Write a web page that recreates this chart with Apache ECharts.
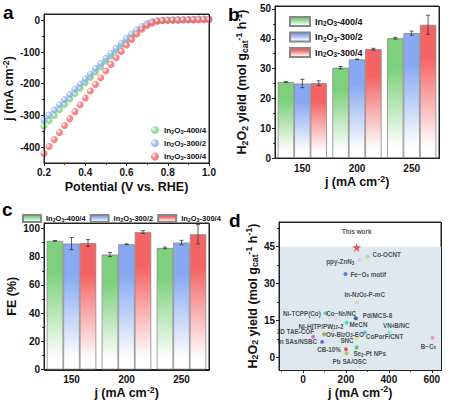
<!DOCTYPE html>
<html>
<head>
<meta charset="utf-8">
<script src="https://cdn.jsdelivr.net/npm/echarts@6/dist/echarts.min.js"></script>
<style>
  html, body { margin: 0; padding: 0; background: #fff; }
  #main { width: 451px; height: 403px; }
  #err { position: absolute; left: 0; top: 190px; width: 451px; font: 9px sans-serif; color: red; word-wrap: break-word; }
</style>
</head>
<body>
<div id="main"></div>
<div id="err"></div>
<script>
window.onerror = function (m, s, l, c) { document.getElementById('err').textContent += ' ERR: ' + m + ' @' + l + ':' + c; };
(function () {

    var FONT = 'Liberation Sans, Arial, sans-serif';

    // ---- data ----
    var samples = ['In_{2}O_{3}-400/4', 'In_{2}O_{3}-300/2', 'In_{2}O_{3}-300/4'];

    // a: LSV curves
    var potential = [0.200, 0.225, 0.250, 0.275, 0.300, 0.325, 0.350, 0.375, 0.400, 0.425, 0.450,
                     0.475, 0.500, 0.525, 0.550, 0.575, 0.600, 0.625, 0.650, 0.675, 0.700, 0.725,
                     0.750, 0.775, 0.800, 0.825, 0.850, 0.875, 0.900, 0.925, 0.950, 0.975, 1.000];
    var lsv400_4 = [-334, -317, -300, -282, -265, -248, -231, -214, -197, -180, -163,
                    -146, -129, -112, -95, -78, -62, -47, -33, -21, -11, -5,
                    -2, 0, 1, 1.5, 2, 2.5, 3, 3.5, 4, 4.5, 5];
    var lsv300_2 = [-315, -299, -283, -266, -250, -234, -217, -201, -185, -169, -152,
                    -136, -120, -104, -88, -72, -57, -43, -30, -19, -10, -4,
                    -1, 0, 0.5, 1, 1.5, 2, 2.5, 3, 3.5, 4, 4.5];
    var lsv300_4 = [-420, -398, -376, -354, -332, -310, -288, -266, -245, -223, -202,
                    -181, -160, -139, -118, -98, -78, -60, -43, -28, -16, -8,
                    -3, -1, 0, 0.3, 0.6, 0.9, 1.2, 1.5, 1.8, 2, 2.2];

    // b, c: bars
    var currents = ['150', '200', '250'];
    var yield400_4 = [25.5, 30.3, 40.2];
    var yield300_2 = [25.0, 33.1, 41.9];
    var yield300_4 = [25.1, 36.5, 44.7];
    var yieldErr400_4 = [0.2, 0.4, 0.3];
    var yieldErr300_2 = [1.4, 0.1, 0.7];
    var yieldErr300_4 = [0.8, 0.3, 3.2];

    var fe400_4 = [91.3, 81.6, 86.3];
    var fe300_2 = [89.4, 88.9, 90.1];
    var fe300_4 = [89.8, 97.6, 96.0];
    var feErr400_4 = [0.3, 1.5, 0.6];
    var feErr300_2 = [4.3, 0.3, 1.6];
    var feErr300_4 = [2.4, 1.0, 6.9];

    // d: comparison with literature (first entry = this work)
    var dNames = ['This work', 'Co-OCNT', 'ppy-ZnN_{3}', 'Fe\u2212O_{x} motif', 'In-N_{2}O_{2}-P-mC',
                  'Ni-TCPP(Co)', 'Co\u2212N_{5}/NC', 'Pd/MCS-8', 'MeCN', 'Ni-HITP/PW_{12}-2',
                  '3D TAE-COF', 'Ov-Bi_{2}O_{3}-EO', 'In SAs/NSBC', 'SNC', 'CoPorF/CNT',
                  'VN_{4}B/NC', 'B\u2212C_{x}', 'Se_{2}-Pt NPs', 'CB-10%', 'Pb SA/OSC'];
    var dCurrent = [250, 301, 262, 198, 250, 106, 150, 246, 203, 140,
                    47, 98, 89, 250, 288, 402, 603, 250, 200, 203];
    var dYield = [44.7, 40.9, 39.6, 33.9, 22.4, 18.0, 16.0, 16.0, 14.2, 11.3,
                  8.5, 9.5, 6.4, 8.1, 10.2, 10.2, 8.1, 4.1, 3.4, 1.8];

    var yTicksA = [-400, -300, -200, -100, 0];
    var yMinorA = [-350, -250, -150, -50];
    var yTicksB = [0, 10, 20, 30, 40, 50];
    var yMinorB = [5, 15, 25, 35, 45];
    var yTicksC = [0, 20, 40, 60, 80, 100];
    var yMinorC = [10, 30, 50, 70, 90];
    var xTicksD = [0, 200, 400, 600];
    var xMinorD = [-100, 100, 300, 500];
    var yTicksD = [0, 15, 30, 45];
    var yMinorD = [7.5, 22.5, 37.5, 52.5];

    // ---- styles ----
    var sampleColors = ['#7dd17d', '#88a9f2', '#f56464'];
    var dColors = ['#e83030', '#a8e070', '#e8b8e8', '#3860e8', '#f0d0a0',
                   '#40d060', '#f5d0bc', '#2038a8', '#30d0a8', '#ecc8b0',
                   '#f040e8', '#a09830', '#7040e0', '#e8d850', '#40a8f8',
                   '#60e8e8', '#f08898', '#30c040', '#e83838', '#c8a850'];
    // [position, offsetX, offsetY]
    var dLabelPlace = [['top', 0, -3], ['right', 0, -2], ['left', 0, 2], ['right', 0, 0], ['top', 8, 0],
                       ['left', 0, 0], ['right', -14, -5], ['right', 2, -3], ['right', -2, 2], ['top', -12, 5],
                       ['left', 6, -5], ['right', -3, 0], ['left', 0, 0], ['left', 2, 3], ['right', -4, 4],
                       ['top', 7, 1], ['bottom', -4, 0], ['bottom', 13, -2], ['left', 0, 0], ['bottom', 3, 0]];
    var STAR = 'path://M50,0 L61,35 L98,35 L68,57 L79,91 L50,70 L21,91 L32,57 L2,35 L39,35 Z';

    var AX = '#222';

    function rich(s) {
        return s.replace(/_\{([^}]*)\}/g, '{b|$1}').replace(/\^\{([^}]*)\}/g, '{p|$1}');
    }
    function richStyle(fs) {
        var base = { fontSize: fs * 0.7, fontWeight: 'bold', fontFamily: FONT, color: '#111' };
        return {
            b: echarts.util.extend({ padding: [fs * 0.45, 0, 0, 0] }, base),
            p: echarts.util.extend({ padding: [0, 0, fs * 0.55, 0] }, base)
        };
    }
    function textStyle(fs) {
        return { fontSize: fs, fontWeight: 'bold', fontFamily: FONT, color: '#111', rich: richStyle(fs) };
    }
    function legendFmt(name) {
        return rich(name.split(':')[1]);
    }
    function ball(c) {
        return new echarts.graphic.RadialGradient(0.35, 0.35, 0.7, [
            { offset: 0, color: '#ffffff' },
            { offset: 0.5, color: c },
            { offset: 1, color: c }
        ]);
    }
    function fade(c) {
        return new echarts.graphic.LinearGradient(0, 0, 0, 1, [
            { offset: 0, color: c },
            { offset: 0.25, color: c },
            { offset: 0.92, color: '#ffffff' }
        ]);
    }

    function gridBox(left, top, width, height) {
        return { left: left, top: top, width: width, height: height, show: true,
                 borderColor: AX, borderWidth: 1,
                 containLabel: false, outerBoundsMode: 'none' };
    }
    function valueAxis(o) {
        var ax = {
            type: 'value', gridIndex: o.grid, min: o.min, max: o.max,
            position: o.pos,
            axisLine: { show: true, onZero: false, lineStyle: { color: AX, width: 1 } },
            axisTick: { show: true, length: 3, lineStyle: { color: AX, width: 1 } },
            axisLabel: { fontSize: 10, fontWeight: 'bold', fontFamily: FONT, color: '#111', margin: 4 },
            splitLine: { show: false },
            name: o.name ? rich(o.name) : '',
            nameLocation: 'middle', nameGap: o.nameGap, nameRotate: o.rotate,
            nameTextStyle: textStyle(12.5)
        };
        if (o.interval) { ax.interval = o.interval; }
        if (o.ticks) {
            ax.axisLabel.customValues = o.ticks;
            ax.axisTick.customValues = o.ticks;
        }
        if (o.formatter) { ax.axisLabel.formatter = o.formatter; }
        if (o.minorSplit) { ax.minorTick = { show: true, splitNumber: o.minorSplit, length: 1.8, lineStyle: { color: AX } }; }
        return ax;
    }
    function minorAxis(grid, min, max, vals, pos) {
        return {
            type: 'value', gridIndex: grid, min: min, max: max, position: pos,
            axisLine: { show: false, onZero: false },
            axisLabel: { show: false },
            splitLine: { show: false },
            axisTick: { show: true, customValues: vals, length: 1.8, lineStyle: { color: AX, width: 1 } }
        };
    }
    function catAxis(grid, nameGap) {
        return {
            type: 'category', gridIndex: grid, data: currents, position: 'bottom',
            axisLine: { onZero: false, lineStyle: { color: AX, width: 1 } },
            axisTick: { alignWithLabel: true, length: 3, lineStyle: { color: AX } },
            axisLabel: { fontSize: 10, fontWeight: 'bold', fontFamily: FONT, color: '#111', margin: 5 },
            name: rich('j (mA cm^{-2})'), nameLocation: 'middle', nameGap: nameGap,
            nameTextStyle: textStyle(12.5)
        };
    }
    // box round the plot area, taken from the grid rectangle
    function frameSeries(xi, yi, pt) {
        return {
            type: 'custom', xAxisIndex: xi, yAxisIndex: yi, silent: true, z: 10,
            encode: { x: 0, y: 1 },
            data: [pt],
            renderItem: function (params) {
                var r = params.coordSys;
                var x0 = Math.round(r.x) + 0.5, y0 = Math.round(r.y) + 0.5;
                var x1 = Math.round(r.x + r.width) + 0.5, y1 = Math.round(r.y + r.height) + 0.5;
                return { type: 'rect', shape: { x: x0, y: y0, width: x1 - x0, height: y1 - y0 },
                         style: { fill: null, stroke: AX, lineWidth: 1 } };
            }
        };
    }
    function errorSeries(xi, yi, vals, errs) {
        var data = [];
        for (var i = 0; i < currents.length; i++) {
            for (var k = 0; k < vals.length; k++) {
                data.push([i, k, vals[k][i] - errs[k][i], vals[k][i] + errs[k][i]]);
            }
        }
        return {
            type: 'custom', xAxisIndex: xi, yAxisIndex: yi, z: 5, silent: true,
            encode: { x: 0, y: [2, 3] },
            data: data,
            renderItem: function (params, api) {
                var band = api.size([1, 0])[0];
                var dx = (api.value(1) - 1) * band * 0.3;
                var hi = api.coord([api.value(0), api.value(3)]);
                var lo = api.coord([api.value(0), api.value(2)]);
                var x = hi[0] + dx, cap = 2;
                var st = { stroke: '#333', lineWidth: 0.8 };
                return { type: 'group', children: [
                    { type: 'line', shape: { x1: x, y1: hi[1], x2: x, y2: lo[1] }, style: st },
                    { type: 'line', shape: { x1: x - cap, y1: hi[1], x2: x + cap, y2: hi[1] }, style: st },
                    { type: 'line', shape: { x1: x - cap, y1: lo[1], x2: x + cap, y2: lo[1] }, style: st }
                ] };
            }
        };
    }

    var lsv = [lsv400_4, lsv300_2, lsv300_4];
    var yields = [yield400_4, yield300_2, yield300_4];
    var yieldErrs = [yieldErr400_4, yieldErr300_2, yieldErr300_4];
    var fes = [fe400_4, fe300_2, fe300_4];
    var feErrs = [feErr400_4, feErr300_2, feErr300_4];

    var series = [
        frameSeries(0, 0, [0.5, 0]),
        frameSeries(1, 2, [0, 0]),
        frameSeries(2, 4, [0, 0]),
        frameSeries(3, 6, [0, 0])
    ];
    samples.forEach(function (s, k) {
        series.push({
            type: 'scatter', name: 'a:' + s, xAxisIndex: 0, yAxisIndex: 0,
            symbolSize: 7, z: 2 + k,
            itemStyle: { color: ball(sampleColors[k]) },
            data: potential.map(function (v, i) { return [v, lsv[k][i]]; })
        });
    });
    samples.forEach(function (s, k) {
        series.push({
            type: 'bar', name: 'b:' + s, xAxisIndex: 1, yAxisIndex: 2,
            barGap: '0%', barCategoryGap: '10%',
            itemStyle: { color: fade(sampleColors[k]), borderColor: '#888', borderWidth: 0.8 },
            data: yields[k]
        });
    });
    series.push(errorSeries(1, 2, yields, yieldErrs));
    samples.forEach(function (s, k) {
        series.push({
            type: 'bar', name: 'c:' + s, xAxisIndex: 2, yAxisIndex: 4,
            barGap: '0%', barCategoryGap: '10%',
            itemStyle: { color: fade(sampleColors[k]), borderColor: '#888', borderWidth: 0.8 },
            data: fes[k]
        });
    });
    series.push(errorSeries(2, 4, fes, feErrs));

    series.push({
        type: 'scatter', xAxisIndex: 3, yAxisIndex: 6, z: 1, silent: true, data: [],
        markArea: { silent: true, itemStyle: { color: '#dde8ef' }, data: [[{ yAxis: -5 }, { yAxis: 45 }]] }
    });
    series.push({
        type: 'scatter', xAxisIndex: 3, yAxisIndex: 6, z: 3,
        label: { show: true, fontSize: 6.3, fontWeight: 'bold', fontFamily: FONT, color: '#222',
                 rich: richStyle(6.3), formatter: function (p) { return rich(p.name); } },
        data: dNames.slice(1).map(function (n, j) {
            var i = j + 1;
            var p = dLabelPlace[i][0];
            return {
                name: n, value: [dCurrent[i], dYield[i]],
                symbol: 'circle', symbolSize: 4,
                itemStyle: { color: dColors[i] },
                label: { position: p, offset: [dLabelPlace[i][1], dLabelPlace[i][2]],
                         align: p === 'left' ? 'right' : (p === 'right' ? 'left' : 'center'),
                         distance: 3 }
            };
        })
    });
    series.push({
        type: 'scatter', xAxisIndex: 3, yAxisIndex: 6, z: 4, silent: true,
        symbol: STAR, symbolSize: 9, itemStyle: { color: dColors[0] },
        label: { show: true, position: 'top', distance: 8, formatter: dNames[0],
                 fontSize: 6.3, fontWeight: 'bold', fontFamily: FONT, color: '#222' },
        data: [[dCurrent[0], dYield[0]]]
    });

    var legendText = function (fs) {
        return { fontSize: fs, fontWeight: 'bold', fontFamily: FONT, color: '#111', rich: richStyle(fs) };
    };

    var option = {
        animation: false,
        backgroundColor: '#fff',
        grid: [
            gridBox(44, 14, 165, 149),
            gridBox(275, 6, 164, 152),
            gridBox(44, 223, 165, 146.5),
            gridBox(279, 222, 162, 148)
        ],
        xAxis: [
            valueAxis({ grid: 0, min: 0.2, max: 1.0, interval: 0.2, pos: 'bottom', minorSplit: 2,
                        name: 'Potential (V vs. RHE)', nameGap: 17,
                        formatter: function (v) { return v.toFixed(1); } }),
            catAxis(1, 16),
            catAxis(2, 14),
            valueAxis({ grid: 3, min: -112, max: 643, ticks: xTicksD, pos: 'bottom',
                        name: 'j (mA cm^{-2})', nameGap: 13 }),
            minorAxis(3, -112, 643, xMinorD, 'bottom')
        ],
        yAxis: [
            valueAxis({ grid: 0, min: -450, max: 20, ticks: yTicksA, pos: 'left',
                        name: 'j (mA cm^{-2})', nameGap: 27, rotate: 90 }),
            minorAxis(0, -450, 20, yMinorA, 'left'),
            valueAxis({ grid: 1, min: 0, max: 51, ticks: yTicksB, pos: 'left',
                        name: 'H_{2}O_{2} yield (mol g_{cat}^{-1} h^{-1})', nameGap: 25, rotate: 90 }),
            minorAxis(1, 0, 51, yMinorB, 'left'),
            valueAxis({ grid: 2, min: 0, max: 104, ticks: yTicksC, pos: 'left',
                        name: 'FE (%)', nameGap: 26, rotate: 90 }),
            minorAxis(2, 0, 104, yMinorC, 'left'),
            valueAxis({ grid: 3, min: -5, max: 55, ticks: yTicksD, pos: 'left',
                        name: 'H_{2}O_{2} yield (mol g_{cat}^{-1} h^{-1})', nameGap: 18, rotate: 90 }),
            minorAxis(3, -5, 55, yMinorD, 'left')
        ],
        legend: [
            { data: samples.map(function (s) { return 'a:' + s; }), orient: 'vertical',
              left: 146, top: 121, itemWidth: 8, itemHeight: 8, itemGap: 4.5, icon: 'circle',
              selectedMode: false, formatter: legendFmt, textStyle: legendText(8) },
            { data: samples.map(function (s) { return 'b:' + s; }), orient: 'vertical',
              left: 284, top: 11, itemWidth: 20, itemHeight: 9, itemGap: 4.5, icon: 'rect',
              selectedMode: false, formatter: legendFmt, textStyle: legendText(9) },
            { data: samples.map(function (s) { return 'c:' + s; }), orient: 'horizontal',
              left: 17, top: 209, itemWidth: 18, itemHeight: 7, itemGap: 4, icon: 'rect',
              selectedMode: false, formatter: legendFmt, textStyle: legendText(7.5) }
        ],
        graphic: [
            { type: 'text', left: 3, top: 3, style: { text: 'a', font: 'bold 19px ' + FONT, fill: '#000' } },
            { type: 'text', left: 228, top: 5, style: { text: 'b', font: 'bold 19px ' + FONT, fill: '#000' } },
            { type: 'text', left: 2, top: 200, style: { text: 'c', font: 'bold 19px ' + FONT, fill: '#000' } },
            { type: 'text', left: 229, top: 211, style: { text: 'd', font: 'bold 19px ' + FONT, fill: '#000' } }
        ],
        series: series
    };

    var myChart = echarts.init(document.getElementById('main'), null, { renderer: 'svg' });
    try {
        myChart.setOption(option);
    } catch (e) {
        document.getElementById('err').textContent += ' CATCH: ' + e.message + ' ' + (e.stack || '').slice(0, 400);
    }
})();
</script>
</body>
</html>
